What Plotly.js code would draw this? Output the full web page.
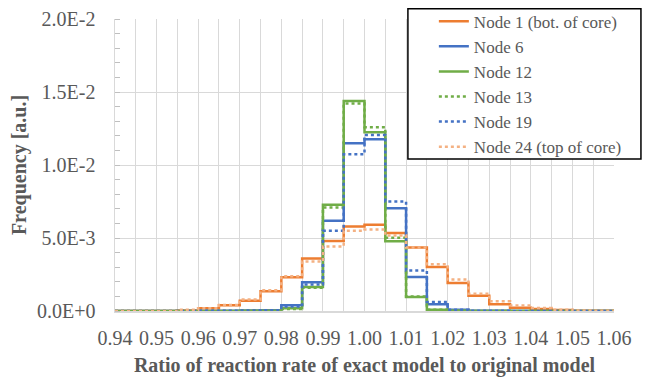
<!DOCTYPE html>
<html>
<head>
<meta charset="utf-8">
<script src="https://cdn.plot.ly/plotly-3.0.1.min.js"></script>
<style>
html,body{margin:0;padding:0;background:#fff;}
#chart{width:650px;height:377px;}
</style>
</head>
<body>
<div id="chart"></div>
<script>
// Bin left edges (bin width 0.005) plus the final right edge
const binEdges = [0.940,0.945,0.950,0.955,0.960,0.965,0.970,0.975,0.980,0.985,0.990,0.995,
                  1.000,1.005,1.010,1.015,1.020,1.025,1.030,1.035,1.040,1.045,1.050,1.055,1.060];

const seriesNames = ["Node 1 (bot. of core)","Node 6","Node 12","Node 13","Node 19","Node 24 (top of core)"];

// Frequencies per bin (24 bins)
const node1  = [0,0,0,0.00003,0.00018,0.00039,0.00071,0.00135,0.00231,0.00359,0.00480,0.00579,
                0.00590,0.00535,0.00435,0.00302,0.00192,0.00105,0.00046,0.00023,0.00014,0.00007,0.00002,0.00001];
const node6  = [0,0,0,0,0.00001,0.00002,0.00003,0.00005,0.00039,0.00197,0.00618,0.01149,
                0.01176,0.00703,0.00233,0.00046,0.00009,0.00002,0.00001,0,0,0,0,0];
const node12 = [0,0,0,0,0,0,0.00001,0.00002,0.00018,0.00165,0.00728,0.01439,
                0.01224,0.00478,0.00096,0.00009,0.00002,0,0,0,0,0,0,0];
const node13 = [0,0,0,0,0,0,0.00001,0.00002,0.00014,0.00160,0.00709,0.01421,
                0.01259,0.00501,0.00100,0.00009,0.00002,0,0,0,0,0,0,0];
const node19 = [0,0,0,0,0.00001,0.00002,0.00003,0.00005,0.00030,0.00181,0.00549,0.01073,
                0.01206,0.00750,0.00277,0.00062,0.00009,0.00002,0.00001,0,0,0,0,0];
const node24 = [0,0,0,0.00008,0.00018,0.00041,0.00078,0.00142,0.00238,0.00339,0.00442,0.00549,
                0.00558,0.00517,0.00435,0.00320,0.00215,0.00119,0.00066,0.00037,0.00020,0.00009,0.00004,0.00002];

const xTickVals = [0.94,0.95,0.96,0.97,0.98,0.99,1.00,1.01,1.02,1.03,1.04,1.05,1.06];
const xTickText = ["0.94","0.95","0.96","0.97","0.98","0.99","1.00","1.01","1.02","1.03","1.04","1.05","1.06"];
const yTickVals = [0,0.005,0.01,0.015,0.02];
const yTickText = ["0.0E+0","5.0E-3","1.0E-2","1.5E-2","2.0E-2"];

const seriesData = [node1,node6,node12,node13,node19,node24];
const colors = ["#ED7D31","#4472C4","#70AD47","#70AD47","#4472C4","#F4B183"];
const dashes = ["solid","solid","solid","dot","dot","dot"];

const traces = seriesData.map((vals,i)=>({
  type:"scatter", mode:"lines",
  x: binEdges,
  y: vals.concat([vals[vals.length-1]]),
  name: seriesNames[i],
  line:{shape:"hv", color:colors[i], width:2.5, dash:dashes[i]},
  hoverinfo:"skip"
}));

const fontFam = "Liberation Serif, Times New Roman, serif";
const layout = {
  width:650, height:377,
  margin:{l:115, r:36, t:19, b:66, autoexpand:false},
  paper_bgcolor:"#fff", plot_bgcolor:"#fff",
  font:{family:fontFam, color:"#595959", size:20},
  showlegend:true,
  legend:{
    x:0.639, xanchor:"left", y:1.0525, yanchor:"top",
    bgcolor:"rgba(0,0,0,0)", borderwidth:0,
    font:{family:fontFam, size:17, color:"#595959"},
    tracegroupgap:0
  },
  shapes:[{
    type:"rect", xref:"paper", yref:"paper",
    x0:0.587, x1:1.054, y0:0.5206, y1:1.035,
    line:{color:"#000", width:1.5}, fillcolor:"#fff", layer:"above"
  }],
  xaxis:{
    range:[0.94,1.06], autorange:false,
    tickmode:"array", tickvals:xTickVals, ticktext:xTickText,
    tickfont:{family:fontFam, size:20, color:"#595959"},
    showgrid:true, gridcolor:"#d9d9d9", gridwidth:1,
    minor:{dtick:0.005, tick0:0.94, showgrid:true, gridcolor:"#d9d9d9", gridwidth:1},
    zeroline:false, showline:true, linecolor:"#d9d9d9", linewidth:1.5,
    ticks:"", ticklabelstandoff:8,
    title:{text:"<b>Ratio of reaction rate of exact model to original model</b>", font:{family:fontFam, size:20, color:"#595959"}, standoff:11}
  },
  yaxis:{
    range:[0,0.02], autorange:false,
    tickmode:"array", tickvals:yTickVals, ticktext:yTickText,
    tickfont:{family:fontFam, size:20, color:"#595959"},
    showgrid:true, gridcolor:"#d9d9d9", gridwidth:1,
    minor:{dtick:0.001, tick0:0, ticks:"inside", ticklen:5, tickcolor:"#bfbfbf", tickwidth:1, showgrid:false},
    zeroline:false, showline:true, linecolor:"#d9d9d9", linewidth:1.5,
    ticks:"", ticklabelstandoff:14,
    title:{text:"<b>Frequency [a.u.]</b>", font:{family:fontFam, size:20, color:"#595959"}, standoff:5}
  }
};

Plotly.newPlot("chart", traces, layout, {displayModeBar:false, staticPlot:true});
</script>
</body>
</html>
